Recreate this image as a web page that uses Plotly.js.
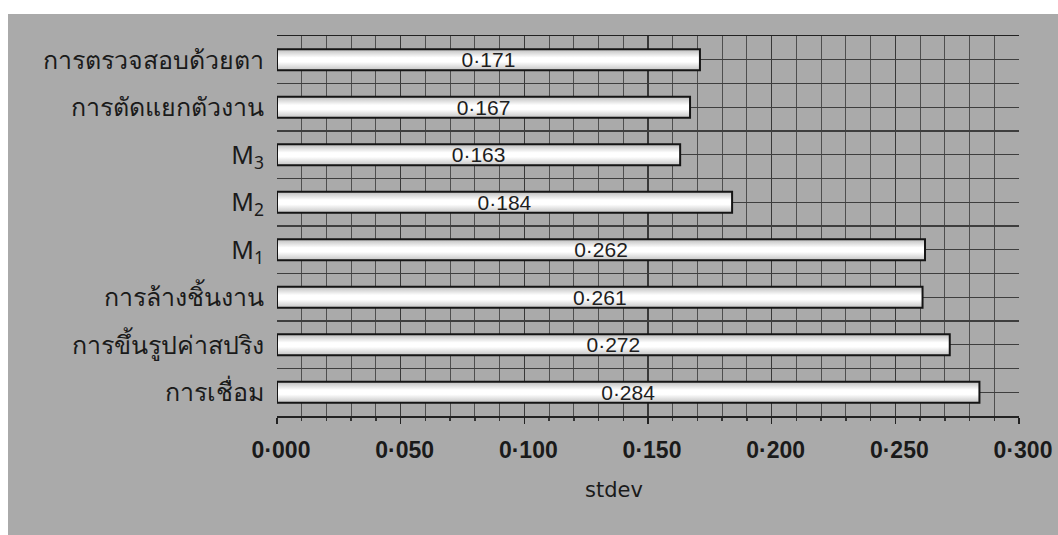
<!DOCTYPE html>
<html>
<head>
<meta charset="utf-8">
<script src="https://cdn.plot.ly/plotly-3.0.1.min.js"></script>
<style>
  html, body { margin: 0; padding: 0; background: #ffffff; }
  #wrap { position: relative; width: 1058px; height: 535px; overflow: hidden; }
  #backdrop { position: absolute; left: 8px; top: 14px; right: 0; bottom: 0; background: #aaaaaa; }
  #chart { position: absolute; left: 0; top: 0; width: 1058px; height: 535px; }
</style>
</head>
<body>
<div id="wrap">
  <div id="backdrop"></div>
  <div id="chart"></div>
</div>
<script>
// Process steps, top to bottom
const categories = [
  'การตรวจสอบด้วยตา',
  'การตัดแยกตัวงาน',
  'M<sub>3</sub>',
  'M<sub>2</sub>',
  'M<sub>1</sub>',
  'การล้างชิ้นงาน',
  'การขึ้นรูปค่าสปริง',
  'การเชื่อม'
];
// Standard deviation of each step
const stdevValues = [0.171, 0.167, 0.163, 0.184, 0.262, 0.261, 0.272, 0.284];
// X-axis ticks
const xTicks = [0.000, 0.050, 0.100, 0.150, 0.200, 0.250, 0.300];

const positions = categories.map((_, i) => i);

// Row ticks every half row: labelled at row centres, blank at row boundaries,
// so the horizontal grid runs through each bar and between neighbouring bars.
const rowTickVals = [-0.5];
const rowTickText = [''];
categories.forEach((name, i) => {
  rowTickVals.push(i, i + 0.5);
  rowTickText.push(name, '');
});

const trace = {
  type: 'bar',
  orientation: 'h',
  x: stdevValues,
  y: positions,
  width: 0.44,
  marker: { color: '#f4f4f4', line: { color: '#151515', width: 2 } },
  texttemplate: '%{x:.3f}',
  textposition: 'inside',
  insidetextanchor: 'middle',
  constraintext: 'none',
  textfont: { family: 'Liberation Sans, Arial, sans-serif', size: 21, color: '#1e1e1e' },
  hoverinfo: 'skip'
};

const layout = {
  width: 1058,
  height: 535,
  margin: { l: 277, r: 39, t: 36, b: 119 },
  paper_bgcolor: 'rgba(0,0,0,0)',
  plot_bgcolor: 'rgba(0,0,0,0)',
  separators: '·,',
  showlegend: false,
  xaxis: {
    range: [0, 0.3],
    tickmode: 'array',
    tickvals: xTicks,
    tickformat: '.3f',
    ticks: 'outside',
    ticklen: 6,
    tickwidth: 1.5,
    tickcolor: '#222',
    ticklabelstandoff: 7,
    ticklabelshift: 4,
    tickfont: { family: 'Liberation Sans, Arial, sans-serif', size: 23, color: '#1a1a1a', weight: 'bold' },
    showgrid: true,
    gridcolor: '#383838',
    gridwidth: 1.3,
    zeroline: false,
    showline: true,
    linecolor: '#222',
    linewidth: 1.5,
    mirror: true,
    minor: { dtick: 0.01, tick0: 0, showgrid: true, gridcolor: '#4e4e4e', gridwidth: 1, ticks: 'outside', ticklen: 3, tickcolor: '#333' }
  },
  yaxis: {
    range: [categories.length - 0.5, -0.5],
    tickmode: 'array',
    tickvals: rowTickVals,
    ticktext: rowTickText,
    ticks: '',
    ticklabelstandoff: 12,
    tickfont: { family: 'Noto Sans, Tahoma, sans-serif', size: 25, color: '#1a1a1a' },
    showgrid: true,
    gridcolor: '#3e3e3e',
    gridwidth: 1.2,
    zeroline: false,
    showline: false
  },
  annotations: [{
    text: 'stdev',
    xref: 'paper', yref: 'paper',
    x: 0.454, y: -0.195,
    xanchor: 'center', yanchor: 'middle',
    showarrow: false,
    font: { family: 'DejaVu Sans, Verdana, sans-serif', size: 21, color: '#1a1a1a' }
  }]
};

Plotly.newPlot('chart', [trace], layout, { staticPlot: true }).then(gd => {
  // Shaded fill for the bars: white centre fading to grey at the edges
  const svg = gd.querySelector('svg.main-svg');
  const ns = 'http://www.w3.org/2000/svg';
  let defs = svg.querySelector('defs');
  if (!defs) { defs = document.createElementNS(ns, 'defs'); svg.insertBefore(defs, svg.firstChild); }
  const grad = document.createElementNS(ns, 'linearGradient');
  grad.setAttribute('id', 'barShade');
  grad.setAttribute('x1', '0'); grad.setAttribute('y1', '0');
  grad.setAttribute('x2', '0'); grad.setAttribute('y2', '1');
  [['0', '#bdbdbd'], ['0.4', '#ffffff'], ['0.6', '#ffffff'], ['1', '#c4c4c4']].forEach(([o, c]) => {
    const s = document.createElementNS(ns, 'stop');
    s.setAttribute('offset', o);
    s.setAttribute('stop-color', c);
    grad.appendChild(s);
  });
  defs.appendChild(grad);
  gd.querySelectorAll('.bars .point path').forEach(p => { p.style.fill = 'url(#barShade)'; });
});
</script>
</body>
</html>
